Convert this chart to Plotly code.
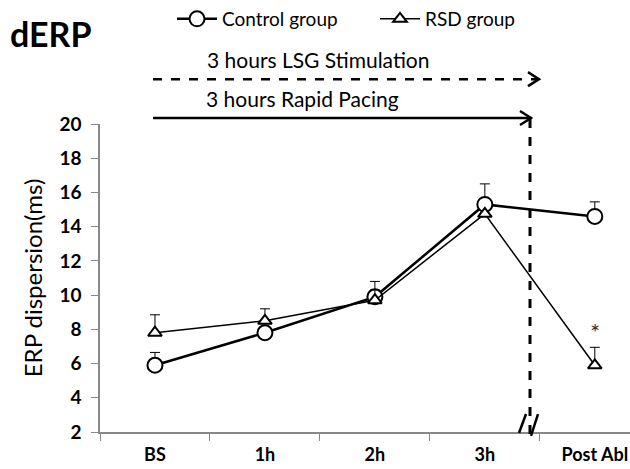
import plotly.graph_objects as go

categories = ["BS", "1h", "2h", "3h", "Post Abl"]
control_mean = [5.9, 7.8, 9.9, 15.3, 14.6]
control_err = [0.75, 0.0, 0.9, 1.2, 0.85]
rsd_mean = [7.8, 8.5, 9.7, 14.75, 5.9]
rsd_err = [1.05, 0.7, 0.6, 0.0, 1.05]
y_ticks = [2, 4, 6, 8, 10, 12, 14, 16, 18, 20]

FONT = "Lato"

fig = go.Figure()
fig.add_trace(go.Scatter(
    x=categories, y=control_mean, name="Control group", mode="lines+markers",
    line=dict(color="black", width=2.5),
    marker=dict(symbol="circle", size=15, color="white", line=dict(color="black", width=2)),
    error_y=dict(type="data", symmetric=False, array=control_err, arrayminus=[0]*5,
                 color="black", thickness=1, width=5),
))
fig.add_trace(go.Scatter(
    x=categories, y=rsd_mean, name="RSD group", mode="lines+markers",
    line=dict(color="black", width=1.5),
    marker=dict(symbol="triangle-up", size=12, color="white", line=dict(color="black", width=2)),
    error_y=dict(type="data", symmetric=False, array=rsd_err, arrayminus=[0]*5,
                 color="black", thickness=1, width=5),
))

L, R, T, B = 100, 630, 123, 432
W, H = R - L, B - T
def px(x): return (x - L) / W
def py(y): return (B - y) / H

shapes = []
# dashed arrow (LSG stimulation)
shapes.append(dict(type="line", xref="paper", yref="paper", x0=px(153), x1=px(538), y0=py(78), y1=py(78),
                   line=dict(color="black", width=2.5, dash="dash")))
shapes.append(dict(type="path", xref="paper", yref="paper",
                   path=f"M {px(528)},{py(71)} L {px(539)},{py(78)} L {px(528)},{py(85)}",
                   line=dict(color="black", width=2.5)))
# solid arrow (rapid pacing)
shapes.append(dict(type="line", xref="paper", yref="paper", x0=px(153), x1=px(530), y0=py(117), y1=py(117),
                   line=dict(color="black", width=2.5)))
shapes.append(dict(type="path", xref="paper", yref="paper",
                   path=f"M {px(520)},{py(110)} L {px(531)},{py(117)} L {px(520)},{py(124)}",
                   line=dict(color="black", width=2.5)))
# vertical dashed line
shapes.append(dict(type="line", xref="paper", yref="paper", x0=px(530), x1=px(530), y0=py(118), y1=py(434),
                   line=dict(color="black", width=3, dash="dash")))
# axis break marks
shapes.append(dict(type="line", xref="paper", yref="paper", x0=px(519), x1=px(526), y0=py(433), y1=py(414),
                   line=dict(color="black", width=2.5)))
shapes.append(dict(type="line", xref="paper", yref="paper", x0=px(531), x1=px(538), y0=py(436), y1=py(414),
                   line=dict(color="black", width=2.5)))

annotations = [
    dict(text="<b>dERP</b>", xref="paper", yref="paper", x=px(8), y=py(32), xanchor="left", yanchor="middle",
         showarrow=False, font=dict(family=FONT, size=34, color="black")),
    dict(text="3 hours LSG Stimulation", xref="paper", yref="paper", x=px(318), y=py(58), xanchor="center",
         yanchor="middle", showarrow=False, font=dict(family=FONT, size=21, color="black")),
    dict(text="3 hours Rapid Pacing", xref="paper", yref="paper", x=px(302), y=py(97), xanchor="center",
         yanchor="middle", showarrow=False, font=dict(family=FONT, size=21, color="black")),
    dict(text="*", xref="x", yref="y", x=4, y=7.9, showarrow=False,
         font=dict(family=FONT, size=24, color="#333333")),
]

fig.update_layout(
    width=630, height=469,
    margin=dict(l=L, r=630 - R, t=T, b=469 - B),
    paper_bgcolor="white", plot_bgcolor="white",
    font=dict(family=FONT, color="black"),
    shapes=shapes, annotations=annotations,
    showlegend=True,
    legend=dict(orientation="h", x=px(172), y=py(17), xanchor="left", yanchor="middle",
                font=dict(family=FONT, size=19, color="black"), bgcolor="rgba(0,0,0,0)",
                itemwidth=40, tracegroupgap=0, entrywidth=148, entrywidthmode="pixels"),
    xaxis=dict(type="category", range=[-0.5, 4.32], tickson="boundaries", ticks="outside", ticklen=7,
               tickcolor="#888888", showline=True, linecolor="#888888", linewidth=1.5, showgrid=False,
               zeroline=False, tickfont=dict(family=FONT, size=18, color="black"),
               ticklabelstandoff=6,
               tickprefix="<b>", ticksuffix="</b>", fixedrange=True),
    yaxis=dict(range=[2, 20], tickvals=y_ticks, ticktext=[f"<b>{v}</b>" for v in y_ticks],
               ticks="outside", ticklen=7, tickcolor="#888888", showline=True, linecolor="#888888",
               linewidth=1.5, showgrid=False, zeroline=False, ticklabelstandoff=6,
               tickfont=dict(family=FONT, size=19, color="black"),
               title=dict(text="ERP dispersion(ms)", font=dict(family=FONT, size=24, color="black"), standoff=10)),
)

fig.write_html("out.html")
